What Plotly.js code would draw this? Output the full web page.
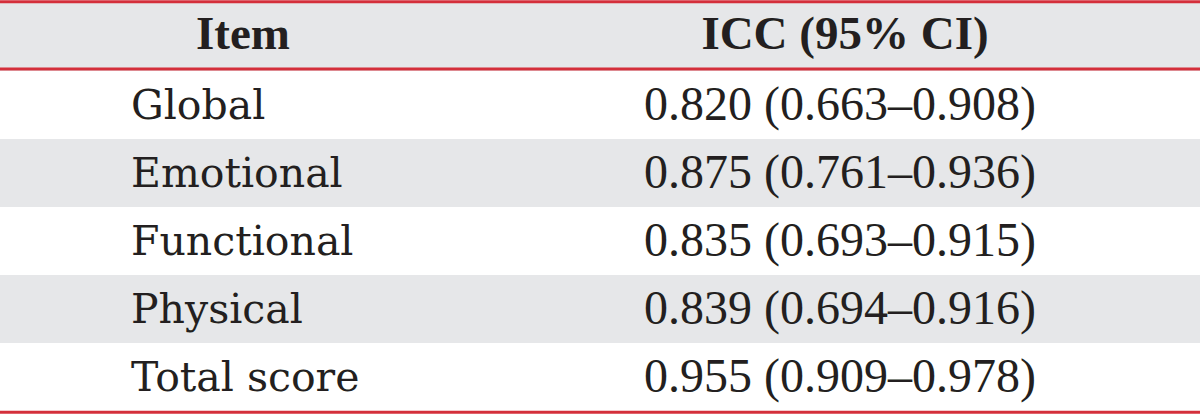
<!DOCTYPE html>
<html>
<head>
<meta charset="utf-8">
<script src="https://cdn.plot.ly/plotly-3.0.1.min.js"></script>
<style>html,body{margin:0;padding:0;background:#fff;}#chart{width:1200px;height:416px;}</style>
</head>
<body>
<div id="chart"></div>
<script>
// ---- data ----
var headers = ["Item", "ICC (95% CI)"];
var items = ["Global", "Emotional", "Functional", "Physical", "Total score"];
var icc = [0.820, 0.875, 0.835, 0.839, 0.955];
var ciLow = [0.663, 0.761, 0.693, 0.694, 0.909];
var ciHigh = [0.908, 0.936, 0.915, 0.916, 0.978];

// ---- derived ----
var rows = items.map(function (_, i) { return i + 1; });        // row index; header is row 0
var iccText = icc.map(function (v, i) {
  return v.toFixed(3) + " (" + ciLow[i].toFixed(3) + "\u2013" + ciHigh[i].toFixed(3) + ")";
});

var INK = "#231f20";
var GRAY = "#e6e7e9";
var RED = "#d42f3b";
var COL_ITEM_X = 131;     // left edge of item text
var COL_ITEM_HEAD = 243;  // centre of "Item" header
var COL_ICC_X = 840;      // centre of ICC column
var COL_ICC_HEAD = 845;
var TEXT_DY = 0.05;       // small downward nudge of body text inside its row

var textRows = rows.map(function (r) { return r + TEXT_DY; });

var traces = [
  {
    type: "scatter", mode: "text", hoverinfo: "skip",
    x: [COL_ITEM_HEAD, COL_ICC_HEAD], y: [0, 0],
    text: headers.map(function (h) { return "<b>" + h + "</b>"; }),
    textposition: "middle center",
    textfont: {family: "Liberation Serif", size: 47, color: INK}
  },
  {
    type: "scatter", mode: "text", hoverinfo: "skip",
    x: items.map(function () { return COL_ITEM_X; }), y: textRows,
    text: items,
    textposition: "middle right",
    textfont: {family: "DejaVu Serif", size: 41, color: INK}
  },
  {
    type: "scatter", mode: "text", hoverinfo: "skip",
    x: items.map(function () { return COL_ICC_X; }), y: textRows,
    text: iccText,
    textposition: "middle center",
    textfont: {family: "Liberation Serif", size: 48, color: INK}
  }
];

// row backgrounds: header gray, then alternating white / gray
var shapes = [{type: "rect", xref: "paper", yref: "y", x0: 0, x1: 1, y0: -0.5, y1: 0.5,
               fillcolor: GRAY, line: {width: 0}, layer: "below"}];
rows.forEach(function (r, i) {
  if (i % 2 === 1) {
    shapes.push({type: "rect", xref: "paper", yref: "y", x0: 0, x1: 1, y0: r - 0.5, y1: r + 0.5,
                 fillcolor: GRAY, line: {width: 0}, layer: "below"});
  }
});
// red rules: top, under header, bottom
[-0.52, 0.47, rows.length + 0.52].forEach(function (yy) {
  shapes.push({type: "line", xref: "paper", yref: "y", x0: 0, x1: 1, y0: yy, y1: yy,
               line: {color: RED, width: 3}, layer: "above"});
});

var layout = {
  width: 1200, height: 416,
  margin: {l: 0, r: 0, t: 0, b: 0, pad: 0},
  paper_bgcolor: "#ffffff", plot_bgcolor: "#ffffff",
  showlegend: false,
  xaxis: {range: [0, 1200], visible: false, fixedrange: true},
  yaxis: {range: [5.574, -0.544], visible: false, fixedrange: true},
  shapes: shapes
};

Plotly.newPlot("chart", traces, layout, {staticPlot: true, displayModeBar: false});
</script>
</body>
</html>
